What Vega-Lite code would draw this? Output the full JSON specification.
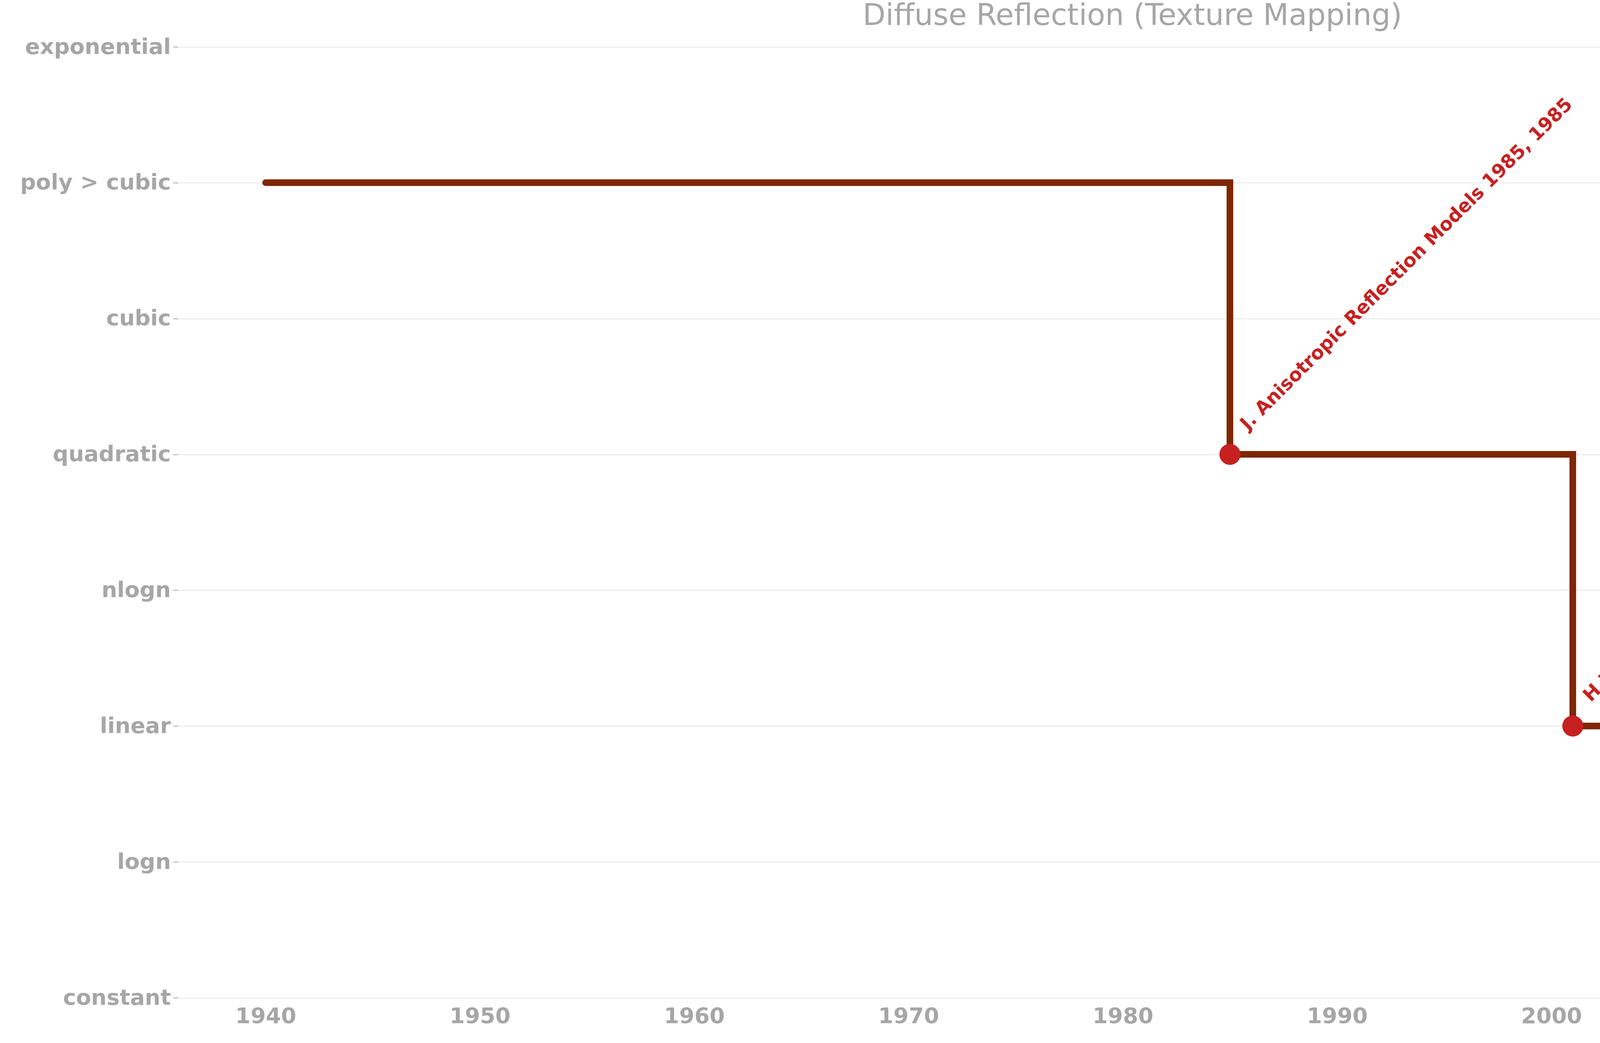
{
  "$schema": "https://vega.github.io/schema/vega-lite/v6.json",
  "autosize": "none",
  "width": 4888,
  "height": 2435,
  "padding": {"left": 455, "top": 120, "right": 27, "bottom": 116},
  "background": "white",
  "title": {"text": "Diffuse Reflection (Texture Mapping)", "fontSize": 76, "fontWeight": "normal", "font": "DejaVu Sans", "color": "#a6a6a6", "anchor": "middle", "offset": 12},
  "config": {"view": {"stroke": null}},
  "datasets": {
    "steps": [
      {"year": 1940, "level": "poly > cubic"},
      {"year": 1985, "level": "quadratic"},
      {"year": 2001, "level": "linear"},
      {"year": 2021, "level": "linear"}
    ],
    "marks": [
      {"year": 1985, "level": "quadratic", "label": "J. Anisotropic Reflection Models 1985, 1985"},
      {"year": 2001, "level": "linear", "label": "H.W.Jensen 2001, 2001"}
    ]
  },
  "encoding": {
    "x": {"field": "year", "type": "quantitative", "scale": {"domain": [1935.9, 2025], "nice": false, "zero": false},
      "axis": {"title": null, "grid": false, "domain": false, "ticks": false, "values": [1940, 1950, 1960, 1970, 1980, 1990, 2000, 2010, 2020], "format": "d", "labelFont": "DejaVu Sans", "labelFontWeight": "bold", "labelFontSize": 56, "labelColor": "#a6a6a6", "labelPadding": 20}},
    "y": {"field": "level", "type": "ordinal", "scale": {"type": "point", "padding": 0, "domain": ["exponential", "poly > cubic", "cubic", "quadratic", "nlogn", "linear", "logn", "constant"]},
      "axis": {"title": null, "domain": false, "grid": true, "gridColor": "#e6e6e6", "gridWidth": 2, "tickColor": "#a6a6a6", "tickSize": 12, "tickWidth": 2, "labelFont": "DejaVu Sans", "labelFontWeight": "bold", "labelFontSize": 56, "labelColor": "#a6a6a6", "labelPadding": 6, "labelLimit": 1000}}
  },
  "layer": [
    {"data": {"name": "steps"}, "mark": {"type": "line", "interpolate": "step-after", "color": "#7f2704", "strokeWidth": 17, "strokeCap": "round"}},
    {"data": {"name": "marks"}, "mark": {"type": "point", "filled": true, "color": "#c62121", "size": 2900, "opacity": 1}},
    {"data": {"name": "marks"}, "mark": {"type": "text", "angle": -45, "align": "left", "baseline": "bottom", "dx": 75, "dy": 0, "font": "DejaVu Sans", "fontWeight": "bold", "fontSize": 48, "color": "#c62121"}, "encoding": {"text": {"field": "label"}}}
  ]
}
